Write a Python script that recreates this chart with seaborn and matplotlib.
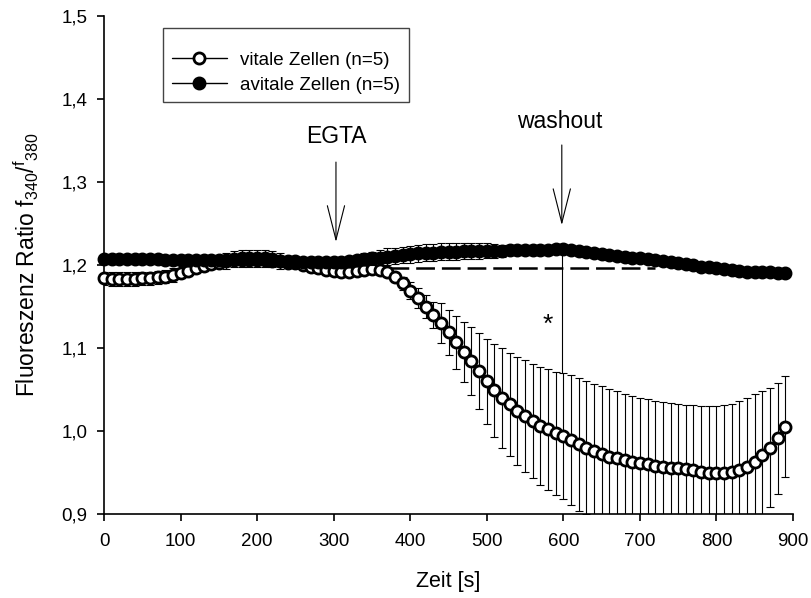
import matplotlib
matplotlib.use("Agg")
import matplotlib.pyplot as plt
from matplotlib.patches import Rectangle
import numpy as np
import pandas as pd
import seaborn as sns

# ---------------- data ----------------
time_s = [0, 10, 20, 30, 40, 50, 60, 70, 80, 90,
          100, 110, 120, 130, 140, 150, 160, 170, 180, 190,
          200, 210, 220, 230, 240, 250, 260, 270, 280, 290,
          300, 310, 320, 330, 340, 350, 360, 370, 380, 390,
          400, 410, 420, 430, 440, 450, 460, 470, 480, 490,
          500, 510, 520, 530, 540, 550, 560, 570, 580, 590,
          600, 610, 620, 630, 640, 650, 660, 670, 680, 690,
          700, 710, 720, 730, 740, 750, 760, 770, 780, 790,
          800, 810, 820, 830, 840, 850, 860, 870, 880, 890]

vitale = [1.184, 1.183, 1.183, 1.183, 1.183, 1.184, 1.184, 1.185, 1.186, 1.188,
          1.190, 1.193, 1.196, 1.199, 1.201, 1.203, 1.205, 1.207, 1.208, 1.208,
          1.208, 1.208, 1.207, 1.205, 1.203, 1.202, 1.200, 1.198, 1.196, 1.194,
          1.193, 1.192, 1.192, 1.193, 1.194, 1.195, 1.194, 1.191, 1.186, 1.178,
          1.169, 1.160, 1.150, 1.140, 1.130, 1.119, 1.107, 1.095, 1.084, 1.072,
          1.060, 1.049, 1.040, 1.032, 1.024, 1.018, 1.012, 1.006, 1.002, 0.997,
          0.994, 0.989, 0.984, 0.980, 0.976, 0.972, 0.969, 0.967, 0.965, 0.963,
          0.961, 0.960, 0.958, 0.957, 0.956, 0.955, 0.954, 0.953, 0.951, 0.950,
          0.950, 0.950, 0.951, 0.953, 0.957, 0.963, 0.971, 0.980, 0.991, 1.005]

vitale_err = [0.008, 0.008, 0.008, 0.008, 0.008, 0.008, 0.008, 0.008, 0.008, 0.008,
              0.006, 0.006, 0.006, 0.006, 0.006, 0.006, 0.010, 0.010, 0.010, 0.010,
              0.010, 0.010, 0.010, 0.010, 0.006, 0.006, 0.006, 0.006, 0.004, 0.004,
              0.004, 0.004, 0.004, 0.004, 0.004, 0.004, 0.004, 0.004, 0.006, 0.008,
              0.010, 0.012, 0.014, 0.016, 0.024, 0.027, 0.032, 0.036, 0.041, 0.046,
              0.051, 0.056, 0.060, 0.062, 0.065, 0.067, 0.069, 0.071, 0.073, 0.074,
              0.076, 0.078, 0.080, 0.080, 0.081, 0.082, 0.082, 0.081, 0.080, 0.079,
              0.079, 0.078, 0.078, 0.078, 0.078, 0.077, 0.077, 0.078, 0.079, 0.080,
              0.080, 0.081, 0.082, 0.083, 0.083, 0.082, 0.077, 0.072, 0.067, 0.061]

avitale = [1.207, 1.207, 1.207, 1.207, 1.207, 1.207, 1.207, 1.207, 1.206, 1.206,
           1.206, 1.206, 1.206, 1.206, 1.206, 1.206, 1.206, 1.206, 1.206, 1.206,
           1.206, 1.206, 1.205, 1.205, 1.205, 1.205, 1.204, 1.204, 1.204, 1.204,
           1.204, 1.204, 1.205, 1.206, 1.207, 1.208, 1.209, 1.210, 1.211, 1.212,
           1.213, 1.214, 1.215, 1.215, 1.216, 1.216, 1.216, 1.217, 1.217, 1.217,
           1.217, 1.217, 1.217, 1.218, 1.218, 1.218, 1.218, 1.218, 1.218, 1.219,
           1.219, 1.218, 1.217, 1.216, 1.215, 1.213, 1.212, 1.211, 1.210, 1.209,
           1.208, 1.207, 1.206, 1.205, 1.204, 1.203, 1.201, 1.200, 1.198, 1.197,
           1.196, 1.195, 1.194, 1.193, 1.192, 1.192, 1.191, 1.191, 1.190, 1.190]

avitale_err = [0.004, 0.004, 0.004, 0.004, 0.004, 0.004, 0.004, 0.004, 0.004, 0.004,
               0.004, 0.004, 0.004, 0.004, 0.004, 0.004, 0.004, 0.004, 0.004, 0.004,
               0.004, 0.004, 0.004, 0.004, 0.004, 0.004, 0.004, 0.004, 0.004, 0.004,
               0.004, 0.004, 0.005, 0.006, 0.007, 0.008, 0.009, 0.010, 0.010, 0.010,
               0.010, 0.010, 0.010, 0.010, 0.010, 0.010, 0.010, 0.010, 0.010, 0.010,
               0.009, 0.008, 0.007, 0.006, 0.006, 0.006, 0.006, 0.006, 0.006, 0.006,
               0.005, 0.005, 0.005, 0.005, 0.004, 0.004, 0.004, 0.004, 0.004, 0.004,
               0.004, 0.004, 0.004, 0.004, 0.004, 0.004, 0.004, 0.004, 0.004, 0.004,
               0.004, 0.004, 0.004, 0.004, 0.004, 0.004, 0.004, 0.004, 0.004, 0.004]

series_labels = ["vitale Zellen (n=5)", "avitale Zellen (n=5)"]
x_ticks = [0, 100, 200, 300, 400, 500, 600, 700, 800, 900]
y_ticks = [0.9, 1.0, 1.1, 1.2, 1.3, 1.4, 1.5]
y_ticklabels = ["0,9", "1,0", "1,1", "1,2", "1,3", "1,4", "1,5"]

# annotation values (data units)
baseline_level = 1.196
baseline_span = [374, 720]
egta_time = 303
washout_time = 598
star_pos = (580, 1.128)

# ---------------- style ----------------
sns.set_theme(style="ticks")
plt.rcParams["font.family"] = ["Liberation Sans", "DejaVu Sans"]
plt.rcParams["mathtext.fontset"] = "custom"
plt.rcParams["mathtext.rm"] = "Liberation Sans"
plt.rcParams["mathtext.it"] = "Liberation Sans:italic"
plt.rcParams["mathtext.default"] = "regular"
plt.rcParams["lines.scale_dashes"] = False
for key in ["text.color", "axes.labelcolor", "xtick.color", "ytick.color",
            "axes.edgecolor"]:
    plt.rcParams[key] = "black"

fig = plt.figure(figsize=(8.11, 5.98), dpi=100)
ax = fig.add_axes([104 / 811, 1 - 514 / 598, 689 / 811, 498 / 598])

df = pd.DataFrame({"t": time_s, "vit": vitale, "vit_err": vitale_err,
                   "avit": avitale, "avit_err": avitale_err})

# error bars
ax.errorbar(df["t"], df["vit"], yerr=df["vit_err"], fmt="none", ecolor="black",
            elinewidth=0.8, capsize=3.2, capthick=0.8, zorder=2)
ax.errorbar(df["t"], df["avit"], yerr=df["avit_err"], fmt="none", ecolor="black",
            elinewidth=0.8, capsize=3.2, capthick=0.8, zorder=4)

# lines with markers
sns.lineplot(data=df, x="t", y="vit", ax=ax, color="black", linewidth=1.0,
             marker="o", markersize=8, markerfacecolor="white",
             markeredgecolor="black", markeredgewidth=2.0,
             label=series_labels[0], zorder=3, clip_on=False)
sns.lineplot(data=df, x="t", y="avit", ax=ax, color="black", linewidth=1.0,
             marker="o", markersize=8, markerfacecolor="black",
             markeredgecolor="black", markeredgewidth=2.0,
             label=series_labels[1], zorder=5, clip_on=False)

# dashed reference line
ax.plot(baseline_span, [baseline_level, baseline_level], color="black",
        linewidth=1.8, linestyle=(0, (13.5, 5.0)), zorder=2.5)

# vertical washout line down to the error bar
ax.plot([washout_time, washout_time], [1.212, 1.070], color="black",
        linewidth=0.8, zorder=1.5)

arrow_style = dict(arrowstyle="->,head_length=2.45,head_width=0.62",
                   color="black", lw=0.8, shrinkA=0, shrinkB=0, mutation_scale=10)
ax.annotate("", xy=(egta_time, 1.2277), xytext=(egta_time, 1.324),
            arrowprops=arrow_style)
ax.annotate("", xy=(washout_time, 1.248), xytext=(washout_time, 1.3446),
            arrowprops=arrow_style)
ax.text(egta_time + 1, 1.347, "EGTA", ha="center", va="baseline", fontsize=16.5)
ax.text(washout_time - 3, 1.365, "washout", ha="center", va="baseline", fontsize=16.5)
ax.text(star_pos[0], star_pos[1], "*", ha="center", va="center", fontsize=19)

# axes
ax.set_xlim(0, 900)
ax.set_ylim(0.9, 1.5)
ax.set_xticks(x_ticks)
ax.set_xticklabels([str(v) for v in x_ticks])
ax.set_yticks(y_ticks)
ax.set_yticklabels(y_ticklabels)
ax.tick_params(axis="both", which="major", labelsize=13.5, length=5, width=1.2,
               color="black", labelcolor="black", direction="out")
ax.tick_params(axis="y", pad=7)
ax.tick_params(axis="x", pad=9)
for side in ["top", "right"]:
    ax.spines[side].set_visible(False)
for side in ["left", "bottom"]:
    ax.spines[side].set_color("black")
    ax.spines[side].set_linewidth(1.2)

ax.set_xlabel("Zeit [s]", fontsize=15.5, labelpad=15)
ax.set_ylabel(r"Fluoreszenz Ratio f$_{340}$/$^{f}$$_{380}$", fontsize=16.5, labelpad=15)

# legend box (frame drawn separately so that its padding matches the original)
ax.add_patch(Rectangle((0.0856, 0.8273), 0.3571, 0.1486, transform=ax.transAxes,
                       facecolor="white", edgecolor="#444444", linewidth=1.0,
                       zorder=9, clip_on=False))
leg = ax.legend(loc="center left", bbox_to_anchor=(0.0990, 0.8860), borderaxespad=0,
                fontsize=13.5, frameon=False, handlelength=2.9, handletextpad=0.7,
                labelspacing=0.42, borderpad=0)
leg.set_zorder(10)

fig.savefig("out.png", dpi=100, facecolor="white")
